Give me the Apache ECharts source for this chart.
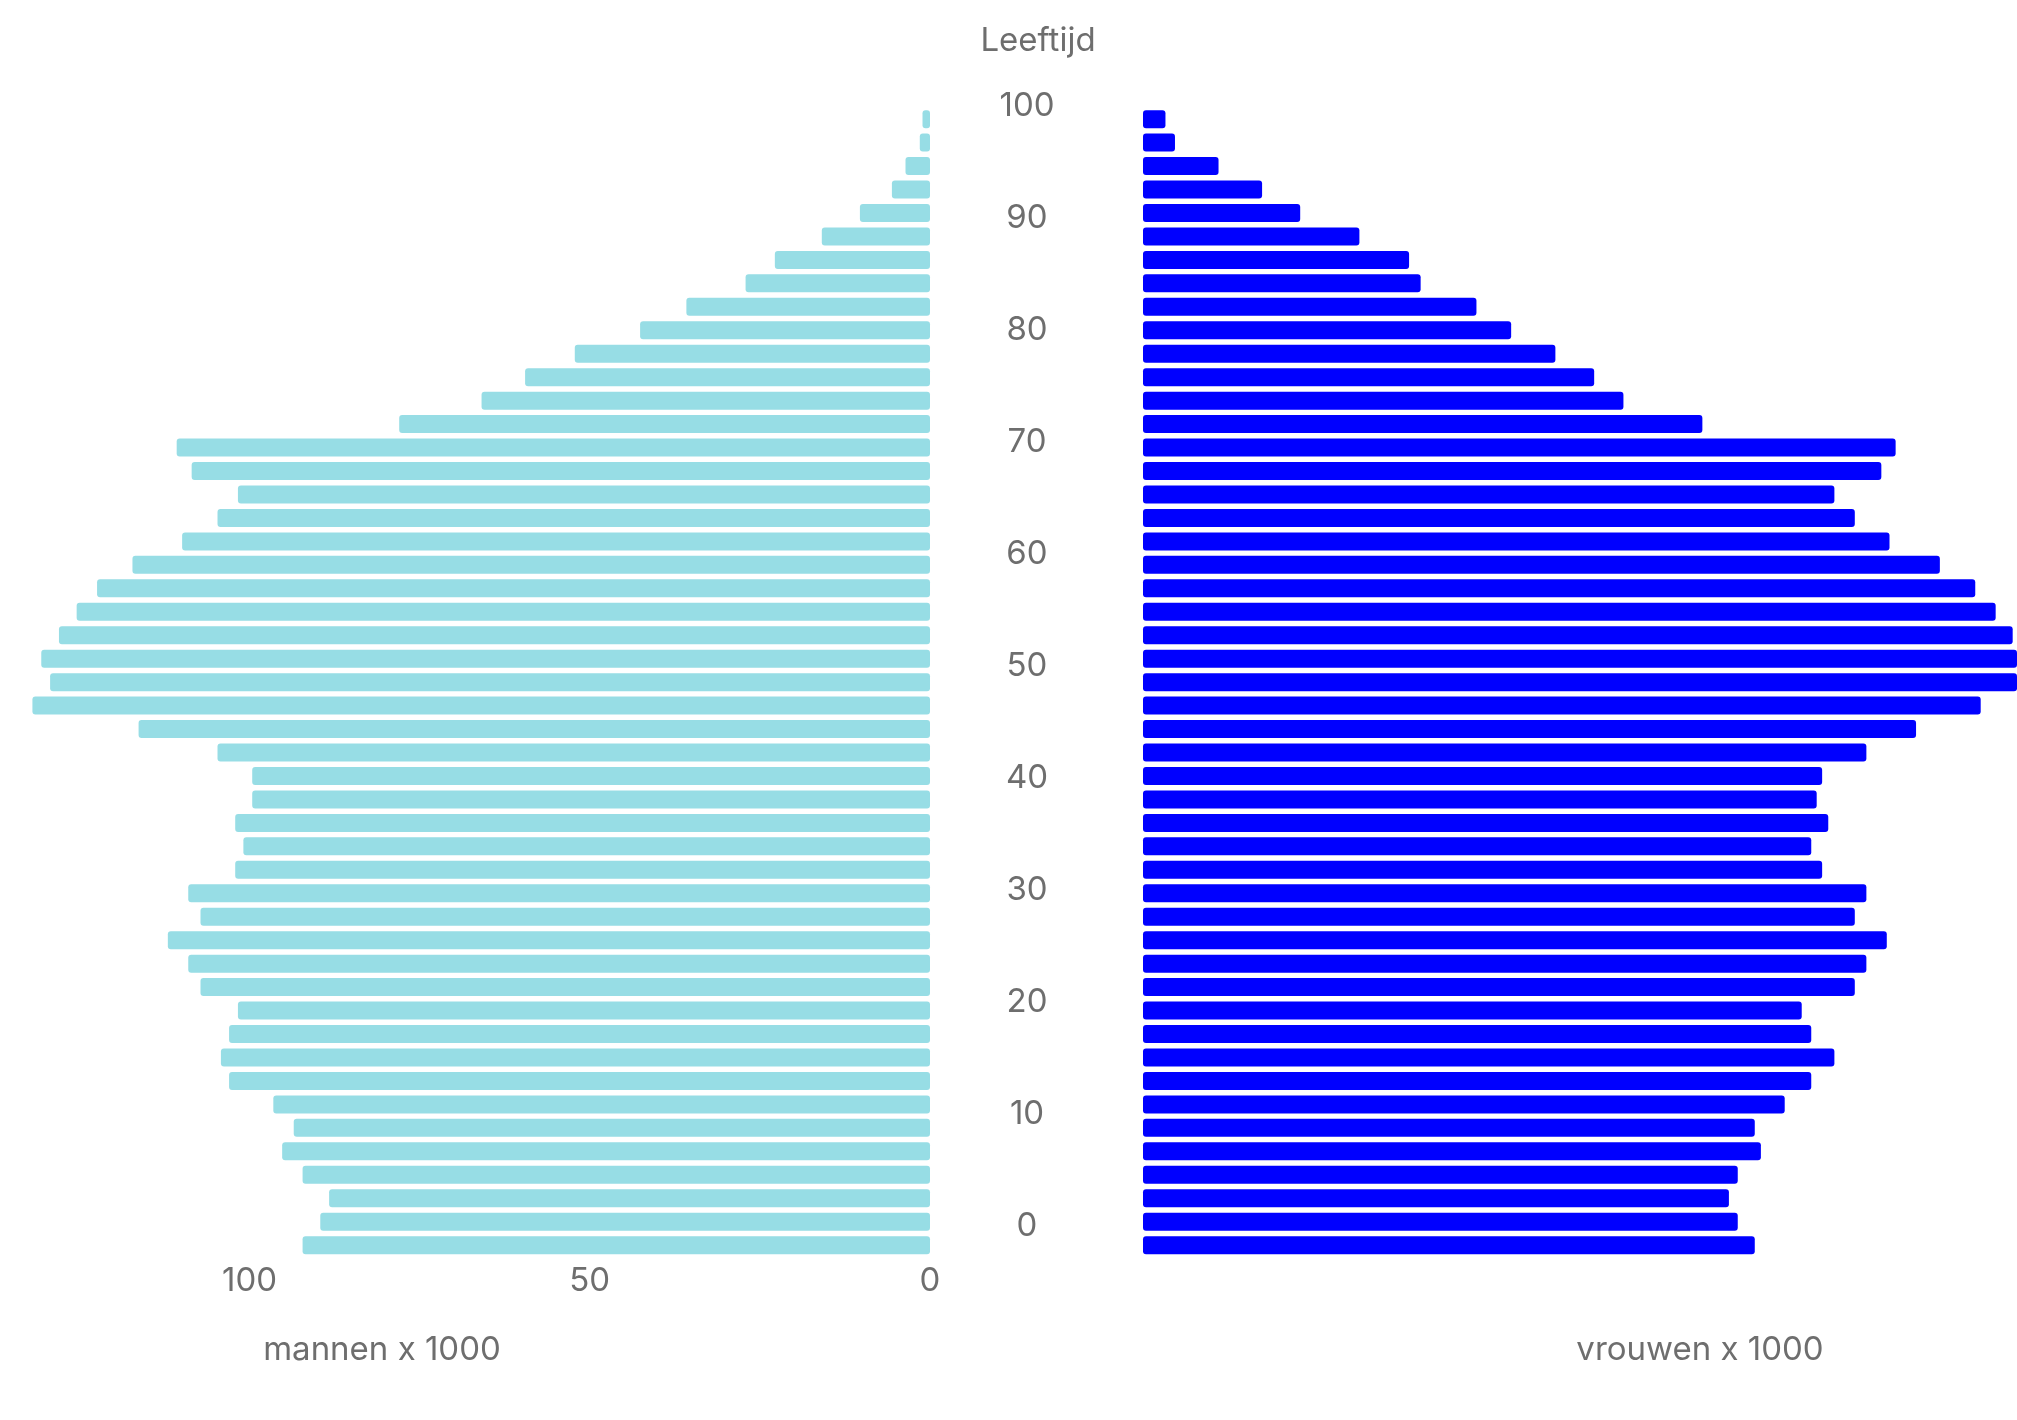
<!DOCTYPE html>
<html>
<head>
<meta charset="utf-8">
<script src="https://cdn.jsdelivr.net/npm/echarts@6/dist/echarts.min.js"></script>
<style>
  html, body { margin: 0; padding: 0; background: #ffffff; }
  #chart { width: 2017px; height: 1420px; }
</style>
</head>
<body>
<div id="chart"></div>
<script>
// Age groups (2-year groups, bottom to top)
const ageGroups = [];
for (let a = 0; a < 98; a += 2) ageGroups.push(a + '-' + (a + 1));

// Men x 1000, per age group (bottom to top)
const mannen = [92.2, 89.6, 88.3, 92.2, 95.2, 93.5, 96.5, 103.0, 104.2, 103.0,
  101.7, 107.2, 109.0, 112.0, 107.2, 109.0, 102.1, 100.9, 102.1, 99.6,
  99.6, 104.7, 116.3, 131.9, 129.3, 130.6, 128.0, 125.4, 122.4, 117.2,
  109.9, 104.7, 101.7, 108.5, 110.7, 78.0, 65.9, 59.5, 52.2, 42.6,
  35.8, 27.1, 22.8, 15.9, 10.3, 5.6, 3.6, 1.5, 1.1];

// Women x 1000, per age group (bottom to top)
const vrouwen = [89.9, 87.4, 86.1, 87.4, 90.8, 89.9, 94.3, 98.2, 101.6, 98.2,
  96.8, 104.6, 106.3, 109.3, 104.6, 106.3, 99.8, 98.2, 100.7, 99.0,
  99.8, 106.3, 113.6, 123.1, 131.0, 130.5, 127.8, 125.3, 122.3, 117.1,
  109.7, 104.6, 101.6, 108.5, 110.6, 82.2, 70.6, 66.3, 60.6, 54.1,
  49.0, 40.8, 39.1, 31.8, 23.1, 17.5, 11.1, 4.7, 3.3];

// Axis labels
const titleAge = 'Leeftijd';
const titleMen = 'mannen x 1000';
const titleWomen = 'vrouwen x 1000';

const FONT = 'Inter, "Noto Sans", sans-serif';
const GRAY = '#6e6e6e';
const FS = 33;

const chart = echarts.init(document.getElementById('chart'), null, { renderer: 'canvas' });

const W = 2017;
const gridTop = 107.4, gridH = 1149.5;
const xMax = 135;
const pxPerUnit = 6.805;
const menRight = 930;
const womenLeft = 1143;
const womenMax = (W - womenLeft) / pxPerUnit;

chart.setOption({
  backgroundColor: '#ffffff',
  animation: false,
  textStyle: { fontFamily: FONT },
  grid: [
    { left: menRight - xMax * pxPerUnit, width: xMax * pxPerUnit, top: gridTop, height: gridH },
    { left: womenLeft, right: 0, top: gridTop, height: gridH },
    { left: 1027, width: 40, top: 105.9, height: 1120 }
  ],
  xAxis: [
    {
      gridIndex: 0, type: 'value', inverse: true, min: 0, max: xMax, interval: 50,
      axisLine: { show: false }, axisTick: { show: false }, splitLine: { show: false },
      axisLabel: { fontSize: FS, color: GRAY, fontFamily: FONT, margin: 8, showMaxLabel: false }
    },
    {
      gridIndex: 1, type: 'value', min: 0, max: womenMax, show: false, splitLine: { show: false }
    },
    {
      gridIndex: 2, type: 'value', min: 0, max: 1, show: false, splitLine: { show: false }
    }
  ],
  yAxis: [
    { gridIndex: 0, type: 'category', data: ageGroups, show: false },
    { gridIndex: 1, type: 'category', data: ageGroups, show: false },
    {
      gridIndex: 2, type: 'value', min: 0, max: 100, interval: 10,
      axisLine: { show: false }, axisTick: { show: false }, splitLine: { show: false },
      axisLabel: {
        fontSize: FS, color: GRAY, fontFamily: FONT, margin: 0, align: 'center',
        formatter: function (v) { return v % 10 === 0 ? String(v) : ''; }
      }
    }
  ],
  series: [
    {
      name: 'mannen', type: 'bar', xAxisIndex: 0, yAxisIndex: 0, data: mannen,
      barWidth: 18, itemStyle: { color: '#97dde5', borderRadius: 3 }
    },
    {
      name: 'vrouwen', type: 'bar', xAxisIndex: 1, yAxisIndex: 1, data: vrouwen, clip: true,
      barWidth: 18, itemStyle: { color: '#0000ff', borderRadius: 3 }
    },
    {
      name: 'leeftijd', type: 'scatter', xAxisIndex: 2, yAxisIndex: 2, data: [], silent: true
    }
  ],
  graphic: [
    { type: 'text', x: 1038, y: 41, style: { text: titleAge, fontSize: FS, fontFamily: FONT, fill: GRAY, textAlign: 'center', textVerticalAlign: 'middle', align: 'center', verticalAlign: 'middle' } },
    { type: 'text', x: 382, y: 1350, style: { text: titleMen, fontSize: FS, fontFamily: FONT, fill: GRAY, textAlign: 'center', textVerticalAlign: 'middle', align: 'center', verticalAlign: 'middle' } },
    { type: 'text', x: 1700, y: 1350, style: { text: titleWomen, fontSize: FS, fontFamily: FONT, fill: GRAY, textAlign: 'center', textVerticalAlign: 'middle', align: 'center', verticalAlign: 'middle' } }
  ]
});
</script>
</body>
</html>
